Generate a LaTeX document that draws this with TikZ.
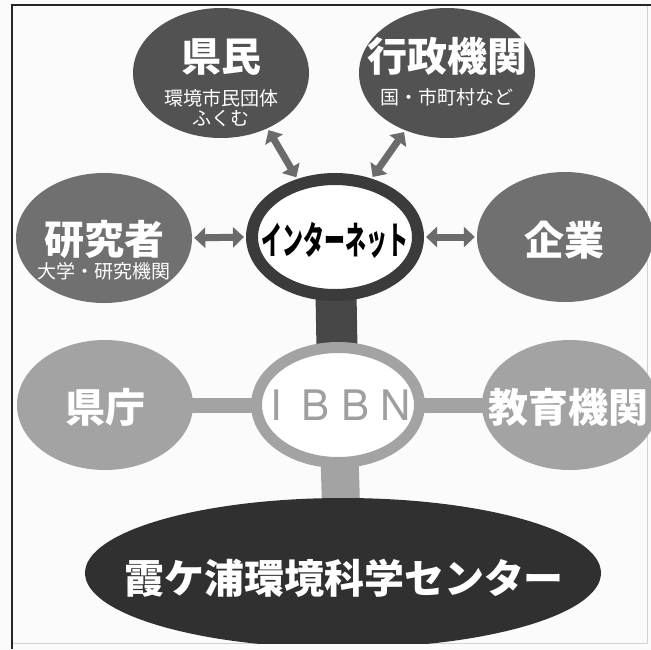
\documentclass[tikz,border=0pt]{standalone}
\usepackage{fontspec}
\setmainfont{Noto Sans CJK JP}
\newfontfamily\ibbnfont{TeX Gyre Heros}
\usetikzlibrary{shapes.geometric, arrows.meta, backgrounds}
\definecolor{topgray}{gray}{0.32}
\definecolor{midgray}{gray}{0.44}
\definecolor{palegray}{gray}{0.64}
\definecolor{ringgray}{gray}{0.23}
\definecolor{basegray}{gray}{0.19}
\definecolor{arrowgray}{gray}{0.42}
\definecolor{papergray}{gray}{0.985}

\begin{document}
\begin{tikzpicture}[x=1pt, y=-1pt,
        party/.style={ellipse, inner sep=0pt, minimum width=176pt, minimum height=130pt},
        title/.style={text=white, font=\fontsize{40}{44}\selectfont\bfseries},
        subtitle/.style={text=white, align=center, font=\fontsize{19}{20}\selectfont},
        dblarrow/.style={draw=arrowgray, line width=7pt, shorten <=2pt, shorten >=2pt,
            {Triangle[length=11pt,width=20pt]}-{Triangle[length=11pt,width=20pt]}}]
    \useasboundingbox (0,0) rectangle (651,649);
    \draw[gray!35, line width=1pt] (647,5) -- (647,643) -- (12,643);
    \draw[black!85, line width=2pt] (12,649) -- (12,5) -- (651,5);

    % internet side
    \node[party, fill=topgray] (kenmin) at (221,73) {};
    \node[party, fill=topgray] (gyosei) at (447,73) {};
    \node[party, fill=midgray] (kenkyu) at (104,238) {};
    \node[party, fill=midgray] (kigyo) at (565,237) {};
    \node[ellipse, inner sep=0pt, minimum width=166pt, minimum height=116pt,
        draw=ringgray, line width=12pt, fill=white] (net) at (335,237) {};

    \node[title] (kenmin-t) at (221,57) {県民};
    \node[subtitle] (kenmin-s) at (221,108) {環境市民団体\\ふくむ};
    \node[title] (gyosei-t) at (447,56) {行政機関};
    \node[subtitle] (gyosei-s) at (447,97) {国・市町村など};
    \node[title] (kenkyu-t) at (104,239) {研究者};
    \node[subtitle] (kenkyu-s) at (104,271) {大学・研究機関};
    \node[title] (kigyo-t) at (564,240) {企業};
    \node[font=\fontsize{38}{40}\selectfont\bfseries] (net-t) at (335,240)
        {\scalebox{0.55}[1]{インターネット}};

    \draw[dblarrow] (kenmin.-50) -- (net.123);
    \draw[dblarrow] (gyosei.-126) -- (net.58);
    \draw[dblarrow] (kenkyu.east) -- (net.west);
    \draw[dblarrow] (net.east) -- (kigyo.west);

    % IBBN side
    \node[party, fill=palegray] (kencho) at (105,405) {};
    \node[party, fill=palegray] (kyoiku) at (570,405) {};
    \node[ellipse, inner sep=0pt, minimum width=163pt, minimum height=115pt,
        draw=palegray, line width=11pt, fill=white] (ibbn) at (338,405) {};
    \begin{scope}
        \clip (0,0) rectangle (651,643);
        \node[ellipse, inner sep=0pt, minimum width=516pt, minimum height=150pt,
            fill=basegray] (center) at (343,573) {};
    \end{scope}

    \node[title] (kencho-t) at (105,407) {県庁};
    \node[title] (kyoiku-t) at (568,407) {教育機関};
    \node[text=gray!75, font=\ibbnfont\fontsize{42}{44}\selectfont] (ibbn-t) at (336,405)
        {\makebox[40pt]{I}\makebox[40pt]{B}\makebox[40pt]{B}\makebox[40pt]{N}};
    \node[title] (center-t) at (344,578) {霞ケ浦環境科学センター};

    \begin{scope}[on background layer]
        \fill[papergray] (0,0) rectangle (651,649);
        \draw[draw=black!72, line width=41pt] (net.center) -- (ibbn.center);
        \draw[draw=palegray, line width=15pt] (kencho.center) -- (ibbn.center)
            (ibbn.center) -- (kyoiku.center);
        \draw[draw=palegray, line width=38pt] (ibbn.center) -- (center.center);
    \end{scope}
\end{tikzpicture}
\end{document}
